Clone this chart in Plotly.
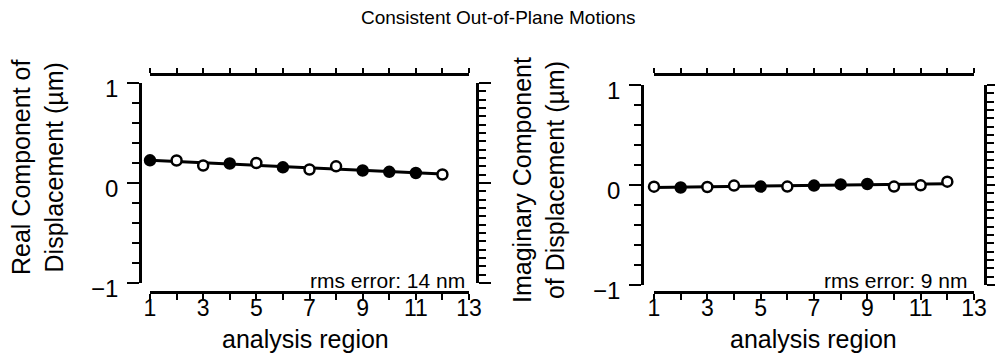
import numpy as np
import plotly.graph_objects as go

# ---- data -------------------------------------------------------------
regions = list(range(1, 13))

real_disp = [0.227, 0.225, 0.175, 0.195, 0.200, 0.157, 0.135, 0.167, 0.125, 0.112, 0.100, 0.085]
real_solid = [1, 0, 0, 1, 0, 1, 0, 0, 1, 1, 1, 0]

imag_disp = [-0.017, -0.025, -0.020, -0.006, -0.016, -0.016, -0.006, 0.006, 0.010, -0.016, -0.003, 0.033]
imag_solid = [0, 1, 0, 0, 1, 0, 1, 1, 1, 0, 0, 0]

x_ticks = [1, 3, 5, 7, 9, 11, 13]
y_ticks = [-1, 0, 1]
y_tick_text = ["\u22121", "0", "1"]

title_text = "Consistent Out-of-Plane Motions"
x_title = "analysis region"
real_title = "Real Component of<br>Displacement (\u00b5m)"
imag_title = "Imaginary Component<br>of Displacement (\u00b5m)"
real_rms = "rms error: 14 nm"
imag_rms = "rms error: 9 nm"

# ---- styling ----------------------------------------------------------
W, H = 995, 362
FONT = "Liberation Sans, Arial, Helvetica, sans-serif"
INK = "black"
LW = 2.5


def px(x):
    return x / W


def py(y):
    return 1 - y / H


fig = go.Figure()


def add_panel(n, vals, solid, x0, x1, y_top, y_bot, y_left_px, y_right_px, x_bot_px, x_top_px):
    xb = "xaxis" if n == 0 else f"xaxis{2 * n + 1}"
    xt = f"xaxis{2 * n + 2}"
    yl = "yaxis" if n == 0 else f"yaxis{2 * n + 1}"
    yr = f"yaxis{2 * n + 2}"
    xb_ref = "x" if n == 0 else f"x{2 * n + 1}"
    yl_ref = "y" if n == 0 else f"y{2 * n + 1}"
    xt_ref = f"x{2 * n + 2}"
    yr_ref = f"y{2 * n + 2}"

    # least-squares straight line through the measurements
    slope, icpt = np.polyfit(regions, vals, 1)
    fit_x = [regions[0], regions[-1]]
    fit_y = [slope * v + icpt for v in fit_x]
    fig.add_trace(go.Scatter(x=fit_x, y=fit_y, mode="lines",
                             line=dict(color=INK, width=3), cliponaxis=False,
                             xaxis=xb_ref, yaxis=yl_ref, showlegend=False,
                             hoverinfo="skip"))
    fig.add_trace(go.Scatter(x=regions, y=vals, mode="markers", cliponaxis=False,
                             marker=dict(symbol="circle", size=10,
                                         color=[INK if s else "white" for s in solid],
                                         line=dict(color=INK, width=2.5)),
                             xaxis=xb_ref, yaxis=yl_ref, showlegend=False))
    # empty trace so the top / right frame axes get drawn
    fig.add_trace(go.Scatter(x=[None], y=[None], mode="markers",
                             xaxis=xt_ref, yaxis=yr_ref, showlegend=False,
                             hoverinfo="skip"))

    common_x = dict(range=[1, 13], showgrid=False, zeroline=False, showline=True,
                    linecolor=INK, linewidth=LW, tickcolor=INK, tickwidth=2,
                    ticks="outside", fixedrange=True, automargin=False)
    fig.layout[xb] = dict(common_x, domain=[px(x0), px(x1)], anchor="free",
                          position=py(x_bot_px), side="bottom",
                          tickvals=x_ticks, ticklen=6, ticklabelstandoff=-11,
                          minor=dict(dtick=1, tick0=0, ticks="outside", ticklen=6,
                                     tickwidth=2, tickcolor=INK),
                          tickfont=dict(family=FONT, size=23, color=INK))
    fig.layout[xt] = dict(common_x, overlaying=xb_ref, anchor="free",
                          position=py(x_top_px), side="top",
                          dtick=1, tick0=1, ticklen=5, showticklabels=False)

    common_y = dict(range=[-1, 1], showgrid=False, zeroline=False, showline=True,
                    linecolor=INK, linewidth=LW, tickcolor=INK, tickwidth=2,
                    ticks="outside", fixedrange=True, automargin=False)
    fig.layout[yl] = dict(common_y, domain=[py(y_bot), py(y_top)], anchor="free",
                          position=px(y_left_px), side="left",
                          tickvals=y_ticks, ticktext=y_tick_text, ticklen=12,
                          minor=dict(dtick=0.2, tick0=0, ticks="outside", ticklen=7,
                                     tickwidth=2, tickcolor=INK),
                          ticklabelshift=6, ticklabelstandoff=4,
                          tickfont=dict(family=FONT, size=24, color=INK))
    fig.layout[yr] = dict(common_y, overlaying=yl_ref, anchor="free",
                          position=px(y_right_px), side="right",
                          tickvals=y_ticks, ticklen=12, showticklabels=False,
                          minor=dict(dtick=1 / 12, tick0=0, ticks="outside", ticklen=7,
                                     tickwidth=2, tickcolor=INK))


add_panel(0, real_disp, real_solid, 150, 469, 83, 283, 140, 477, 292, 74)
add_panel(1, imag_disp, imag_solid, 654, 974, 85, 285, 642, 985, 292, 74)

ann = []
ann.append(dict(text=title_text, x=px(498), y=py(18), xref="paper", yref="paper",
                showarrow=False, xanchor="center", yanchor="middle",
                font=dict(family=FONT, size=19, color=INK)))
for cx in (305, 813):
    ann.append(dict(text=x_title, x=px(cx), y=py(339), xref="paper", yref="paper",
                    showarrow=False, xanchor="center", yanchor="middle",
                    font=dict(family=FONT, size=25, color=INK)))
ann.append(dict(text=real_title, x=px(38), y=py(168), xref="paper", yref="paper",
                showarrow=False, textangle=-90, xanchor="center", yanchor="middle",
                font=dict(family=FONT, size=25, color=INK)))
ann.append(dict(text=imag_title, x=px(538), y=py(180), xref="paper", yref="paper",
                showarrow=False, textangle=-90, xanchor="center", yanchor="middle",
                font=dict(family=FONT, size=25, color=INK)))
ann.append(dict(text=real_rms, x=px(467), y=py(280), xref="paper", yref="paper",
                showarrow=False, xanchor="right", yanchor="middle",
                font=dict(family=FONT, size=21, color=INK)))
ann.append(dict(text=imag_rms, x=px(970), y=py(280), xref="paper", yref="paper",
                showarrow=False, xanchor="right", yanchor="middle",
                font=dict(family=FONT, size=21, color=INK)))

fig.update_layout(template="none", width=W, height=H, autosize=False,
                  margin=dict(l=0, r=0, t=0, b=0, pad=0, autoexpand=False),
                  paper_bgcolor="white", plot_bgcolor="white",
                  font=dict(family=FONT, color=INK),
                  annotations=ann, showlegend=False)

fig.write_html("out.html")
